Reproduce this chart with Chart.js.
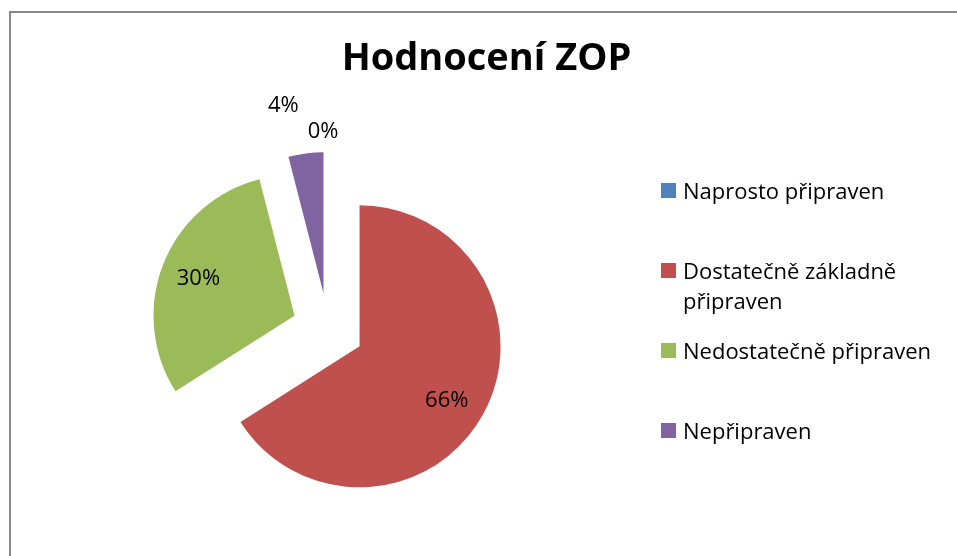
<!DOCTYPE html>
<html><head><meta charset="utf-8">
<script src="https://cdn.jsdelivr.net/npm/chart.js@4.4.1/dist/chart.umd.min.js"></script>
<style>html,body{margin:0;padding:0;background:#fff;overflow:hidden}#wrap{position:relative;width:957px;height:556px}</style>
</head><body><div id="wrap"><canvas id="c" width="957" height="556"></canvas></div>
<script>
const chartTitle = 'Hodnocení ZOP';
const categories = ['Naprosto připraven', 'Dostatečně základně připraven', 'Nedostatečně připraven', 'Nepřipraven'];
const percentages = [0, 66, 30, 4];
const percentLabels = ['0%', '66%', '30%', '4%'];
const sliceColors = ['#4F81BD', '#C0504D', '#9BBB59', '#8064A2'];

const FONT = '"Open Sans", Lato, sans-serif';
const EXPLODE = 36;
const RADIUS = 141;

const framePlugin = {
  id: 'frame',
  beforeDraw(chart) {
    const ctx = chart.ctx;
    ctx.save();
    ctx.fillStyle = '#fff';
    ctx.fillRect(0, 0, chart.width, chart.height);
    ctx.strokeStyle = '#8a8a8a';
    ctx.lineWidth = 2;
    ctx.strokeRect(10, 12, 2000, 2000);
    ctx.restore();
  }
};

// Draw each pie slice (Chart.js arc elements) pushed out along its bisector
const explodePlugin = {
  id: 'explode',
  beforeDatasetDraw(chart, args) {
    const ctx = chart.ctx;
    args.meta.data.forEach(arc => {
      const mid = (arc.startAngle + arc.endAngle) / 2;
      ctx.save();
      ctx.translate(Math.cos(mid) * EXPLODE, Math.sin(mid) * EXPLODE);
      arc.draw(ctx);
      ctx.restore();
    });
    return false;
  }
};

const titlePlugin = {
  id: 'xlTitle',
  afterDraw(chart) {
    const ctx = chart.ctx;
    ctx.save();
    ctx.font = 'bold 38px ' + FONT;
    ctx.fillStyle = '#000';
    ctx.textAlign = 'center';
    ctx.textBaseline = 'alphabetic';
    ctx.fillText(chartTitle, 486.5, 69.5);
    ctx.restore();
  }
};

const legendPlugin = {
  id: 'xlLegend',
  afterDraw(chart) {
    const ctx = chart.ctx;
    const labels = chart.data.labels;
    const colors = chart.data.datasets[0].backgroundColor;
    ctx.save();
    ctx.font = '22px ' + FONT;
    ctx.textBaseline = 'alphabetic';
    ctx.textAlign = 'left';
    const x0 = 661, tx = 683, y0 = 191, step = 80, lineH = 30, maxW = 262;
    labels.forEach((lab, i) => {
      const yc = y0 + step * i;
      ctx.fillStyle = colors[i];
      ctx.fillRect(x0, yc - 8, 15, 15);
      ctx.fillStyle = '#000';
      const words = lab.split(' ');
      const lines = [];
      let cur = '';
      words.forEach(w => {
        const t = cur ? cur + ' ' + w : w;
        if (ctx.measureText(t).width > maxW && cur) { lines.push(cur); cur = w; } else cur = t;
      });
      lines.push(cur);
      lines.forEach((ln, k) => ctx.fillText(ln, tx, yc + 8 + k * lineH));
    });
    ctx.restore();
  }
};

const labelPlugin = {
  id: 'xlDataLabels',
  afterDatasetsDraw(chart, args, opts) {
    const ctx = chart.ctx;
    const meta = chart.getDatasetMeta(0);
    ctx.save();
    ctx.font = '22px ' + FONT;
    ctx.fillStyle = '#000';
    ctx.textAlign = 'center';
    ctx.textBaseline = 'middle';
    meta.data.forEach((arc, i) => {
      const p = arc.getProps(['x', 'y', 'startAngle', 'endAngle', 'outerRadius'], true);
      const mid = (p.startAngle + p.endAngle) / 2;
      const o = opts.place[i];
      const ang = mid + o.dA * Math.PI / 180;
      const dist = o.r * p.outerRadius;
      ctx.fillText(percentLabels[i], p.x + Math.cos(ang) * dist, p.y + Math.sin(ang) * dist);
    });
    ctx.restore();
  }
};

new Chart(document.getElementById('c'), {
  type: 'pie',
  data: {
    labels: categories,
    datasets: [{
      data: percentages,
      backgroundColor: sliceColors,
      borderWidth: 0,
      offset: 0,
      hoverOffset: 0
    }]
  },
  options: {
    responsive: false,
    devicePixelRatio: 1,
    animation: false,
    events: [],
    radius: RADIUS,
    layout: { padding: { left: 118, right: 419, top: 119, bottom: 17 } },
    plugins: {
      legend: { display: false },
      title: { display: false },
      tooltip: { enabled: false },
      xlDataLabels: {
        place: [
          { r: 1.40, dA: -1.4 },
          { r: 0.985, dA: 2.4 },
          { r: 0.985, dA: -0.5 },
          { r: 1.617, dA: -4.1 }
        ]
      }
    }
  },
  plugins: [framePlugin, explodePlugin, titlePlugin, legendPlugin, labelPlugin]
});
</script>
</body></html>
